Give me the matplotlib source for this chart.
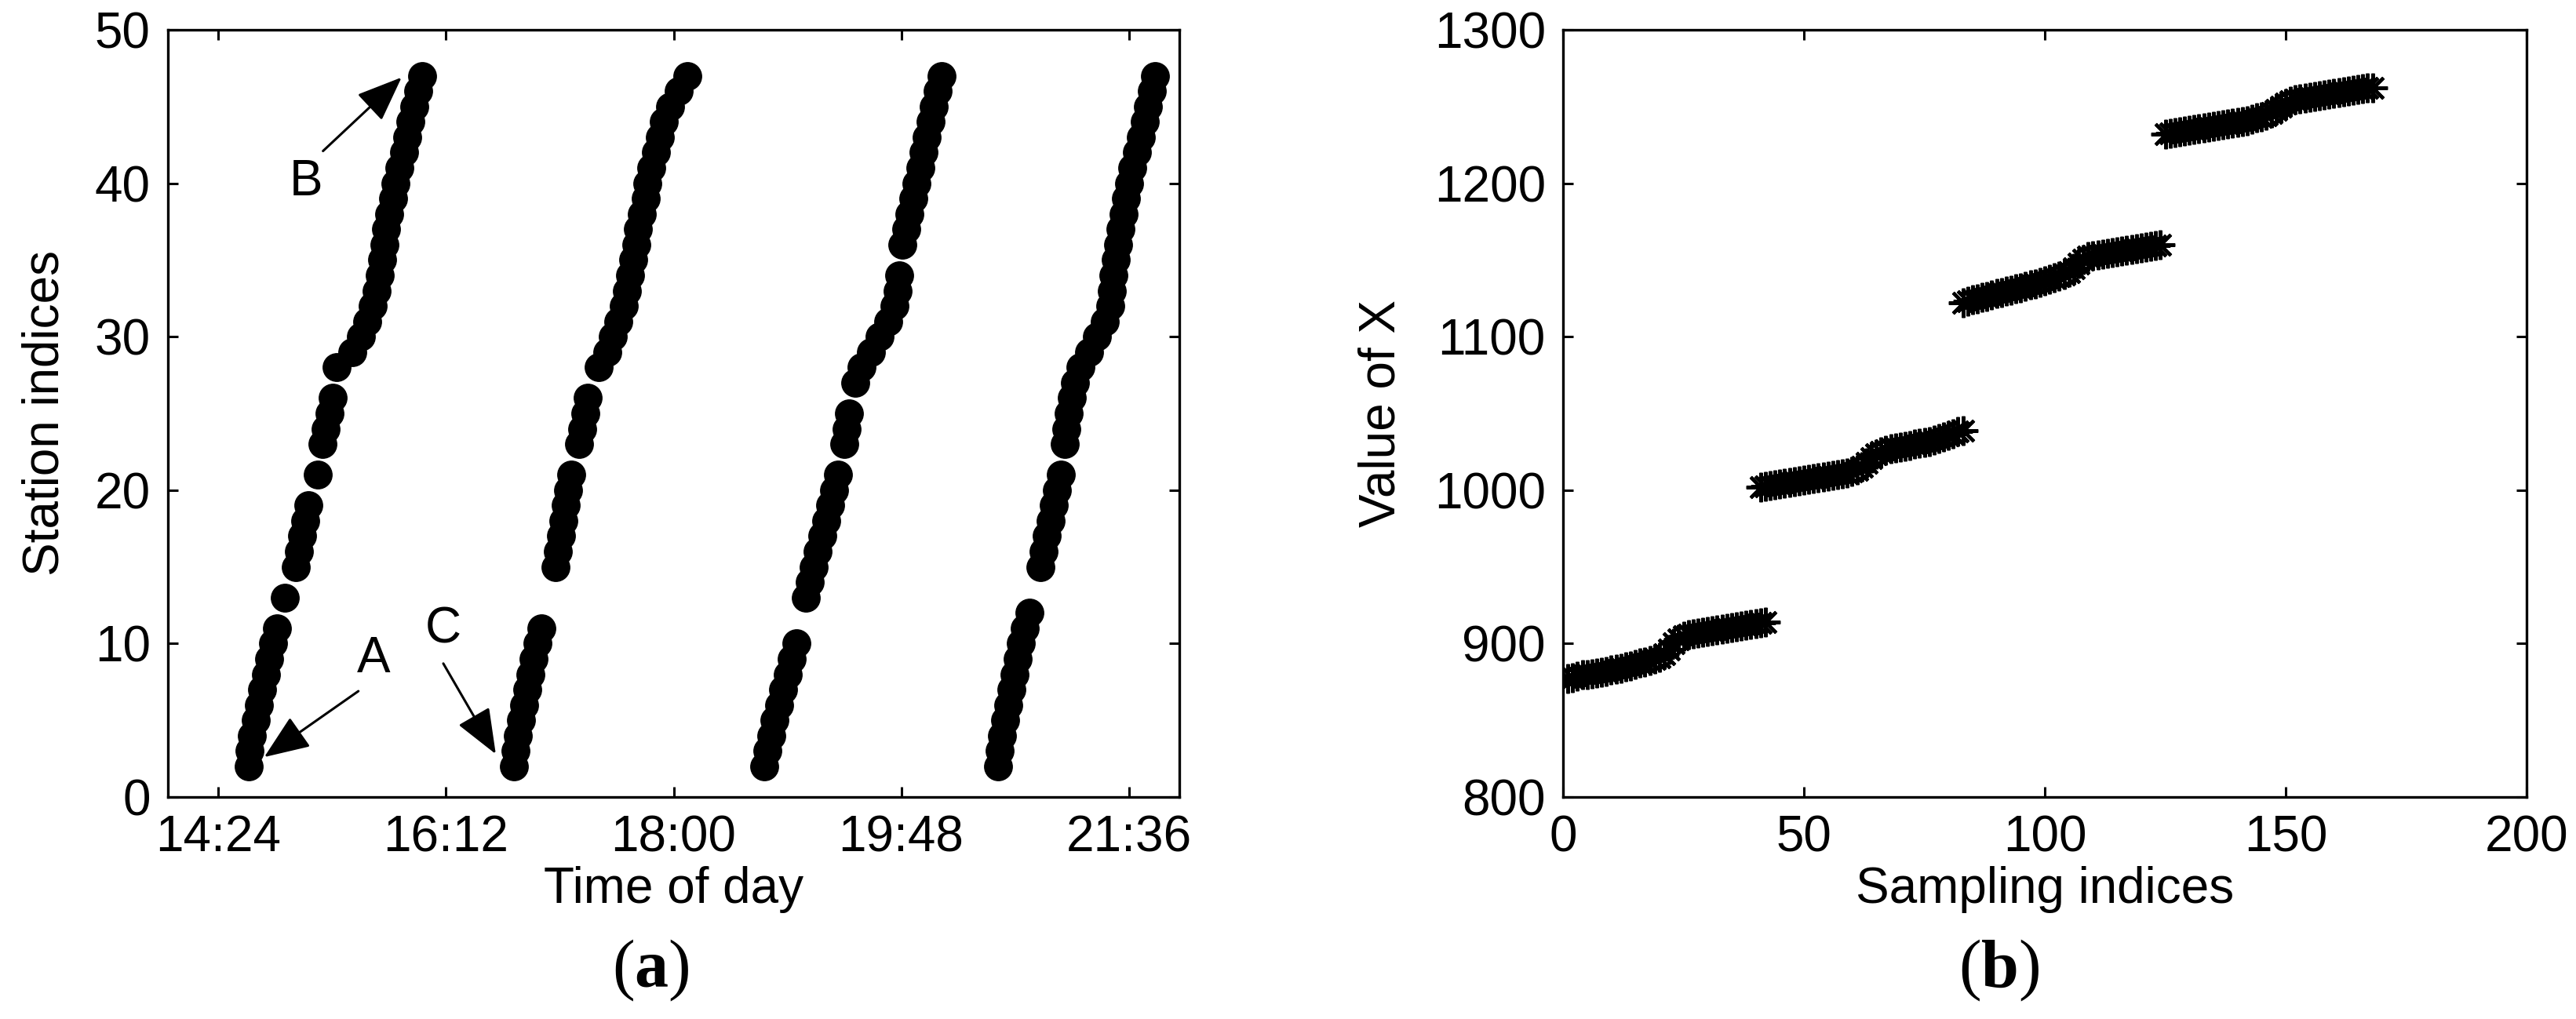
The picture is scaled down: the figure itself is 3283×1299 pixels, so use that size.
import matplotlib
matplotlib.use("Agg")
import matplotlib.pyplot as plt

plt.rcParams['font.family'] = ['Liberation Sans', 'DejaVu Sans']
plt.rcParams['mathtext.fontset'] = 'custom'
plt.rcParams['mathtext.bf'] = 'Liberation Serif:bold'
plt.rcParams['mathtext.rm'] = 'Liberation Serif'

# ---------------- Panel (a) data: station index vs time (minutes since midnight)
trip1_stations = [2, 3, 4, 5, 6, 7, 8, 9, 10, 11, 13, 15, 16, 17, 18, 19, 21, 23, 24, 25, 26,
                  28, 29, 30, 31, 32, 33, 34, 35, 36, 37, 38, 39, 40, 41, 42, 43, 44, 45, 46, 47]
trip1_times = [878.2, 878.8, 880.0, 881.6, 883.2, 884.8, 886.4, 888.1, 889.9, 891.8, 895.4,
               900.6, 902.1, 903.5, 905.0, 906.7, 911.1, 913.4, 915.0, 916.6, 918.3,
               920.2, 927.5, 931.5, 934.5, 937.2, 939.0, 940.5, 941.6, 942.6, 943.4, 945.0,
               946.9, 948.0, 950.0, 952.2, 953.4, 955.0, 956.9, 958.8, 960.8]

trip2_stations = [2, 3, 4, 5, 6, 7, 8, 9, 10, 11, 15, 16, 17, 18, 19, 20, 21, 23, 24, 25, 26,
                  28, 29, 30, 31, 32, 33, 34, 35, 36, 37, 38, 39, 40, 41, 42, 43, 44, 45, 46, 47]
trip2_times = [1004.2, 1005.0, 1006.2, 1007.6, 1009.0, 1010.5, 1012.0, 1013.5, 1015.3, 1017.3,
               1023.9, 1025.2, 1026.4, 1027.6, 1028.8, 1030.0, 1031.5, 1035.3, 1036.6, 1038.0, 1039.3,
               1044.3, 1048.5, 1051.2, 1053.7, 1056.2, 1058.0, 1059.2, 1060.8, 1062.3, 1063.2, 1065.0,
               1066.6, 1067.4, 1069.5, 1071.6, 1073.6, 1075.5, 1078.4, 1082.5, 1086.6]

trip3_stations = [2, 3, 4, 5, 6, 7, 8, 9, 10, 13, 14, 15, 16, 17, 18, 19, 20, 21, 23, 24, 25,
                  27, 28, 29, 30, 31, 32, 33, 34, 36, 37, 38, 39, 40, 41, 42, 43, 44, 45, 46, 47]
trip3_times = [1123.1, 1124.4, 1126.2, 1128.0, 1130.0, 1132.0, 1134.0, 1136.2, 1138.3,
               1142.7, 1144.5, 1146.4, 1148.4, 1150.4, 1152.4, 1154.4, 1156.3, 1158.2,
               1160.9, 1162.0, 1163.1, 1166.3, 1169.3, 1173.5, 1177.8, 1181.8, 1184.9, 1186.2, 1186.9,
               1188.6, 1190.3, 1192.0, 1193.7, 1195.4, 1197.0, 1198.6, 1200.2, 1201.9, 1203.6,
               1205.4, 1207.2]

trip4_stations = [2, 3, 4, 5, 6, 7, 8, 9, 10, 11, 12, 15, 16, 17, 18, 19, 20, 21, 23, 24, 25,
                  26, 27, 28, 29, 30, 31, 32, 33, 34, 35, 36, 37, 38, 39, 40, 41, 42, 43, 44, 45, 46, 47]
trip4_times = [1233.9, 1234.6, 1235.8, 1237.3, 1238.8, 1240.3, 1241.8, 1243.3, 1244.8, 1246.6, 1248.8,
               1254.0, 1255.6, 1257.2, 1258.8, 1260.4, 1262.0, 1263.7, 1265.5, 1266.5, 1267.6,
               1268.9, 1270.4, 1273.2, 1277.0, 1281.0, 1284.8, 1287.3, 1288.0, 1288.7, 1289.8,
               1291.0, 1292.2, 1293.4, 1294.7, 1296.0, 1297.8, 1299.8, 1301.7, 1303.5, 1305.2,
               1306.9, 1308.4]

time_ticks = [864, 972, 1080, 1188, 1296]
time_tick_labels = ['14:24', '16:12', '18:00', '19:48', '21:36']

# annotation anchors (time in minutes, station index)
label_A = (937.6, 9.0)
arrow_A = ((930.4, 6.9), (885.7, 2.6))
label_B = (905.5, 40.1)
arrow_B = ((913.6, 42.1), (950.9, 46.9))
label_C = (970.5, 10.9)
arrow_C = ((970.7, 8.7), (995.6, 2.8))

# ---------------- Panel (b) data: value of X vs sampling index
g1_idx = list(range(1, 43))
g1_val = [877, 877.5, 878.5, 879.5, 880, 880.5, 881, 881.5, 882, 883, 883.5, 884, 885, 885.5,
          886.5, 887.5, 888, 889, 890, 891, 893, 896, 900, 903, 905, 906, 906.5, 907, 907.5,
          908, 908.5, 909, 909.5, 910, 910.5, 911, 911.5, 912, 912.5, 913, 913.5, 914]
g2_idx = list(range(41, 84))
g2_val = [1002, 1002.5, 1003, 1003.5, 1004, 1004.5, 1005, 1005.5, 1006, 1006.5, 1007, 1007.5,
          1008, 1008.5, 1009, 1009.5, 1010, 1010.5, 1011, 1012, 1013, 1015, 1018, 1021, 1023.5,
          1025, 1026, 1027, 1027.5, 1028, 1028.5, 1029, 1030, 1030.5, 1031, 1031.5, 1032.5,
          1033.5, 1034.5, 1035.5, 1036.5, 1038, 1039]
g3_idx = list(range(83, 125))
g3_val = [1122, 1123, 1124, 1124.5, 1125.5, 1126, 1127, 1128, 1128.5, 1129.5, 1130.5, 1131.5,
          1132, 1133, 1134, 1134.5, 1135.5, 1136.5, 1137.5, 1138.5, 1139.5, 1140.5, 1142, 1144.5,
          1147.5, 1150, 1152, 1153, 1153.5, 1154, 1154.5, 1155, 1155.5, 1156, 1156.5, 1157,
          1157.5, 1158, 1158.5, 1159, 1159.5, 1160]
g4_idx = list(range(125, 169))
g4_val = [1232, 1232.5, 1233, 1233.5, 1234, 1234.5, 1235, 1235.5, 1236, 1236.5, 1237, 1237.5,
          1238, 1238.5, 1239, 1239.5, 1240, 1240.5, 1241.5, 1242.5, 1243.5, 1244.5, 1246, 1248,
          1250, 1252, 1253.5, 1254.5, 1255, 1255.5, 1256, 1256.5, 1257, 1257.5, 1258, 1258.5,
          1259, 1259.5, 1260, 1260.5, 1261, 1261.5, 1262, 1262]

W, H = 3283, 1299
fig = plt.figure(figsize=(W / 100, H / 100), dpi=100)
axA = fig.add_axes([214 / W, 1 - 1016 / H, 1289 / W, 978 / H])
axB = fig.add_axes([1992 / W, 1 - 1016 / H, 1228 / W, 978 / H])

FS = 46
for ax in (axA, axB):
    for sp in ax.spines.values():
        sp.set_linewidth(2.4)
    ax.tick_params(direction='in', length=9.5, width=2.2, top=True, right=True,
                   labelsize=FS, pad=16)

# Panel (a)
for st, tm in ((trip1_stations, trip1_times), (trip2_stations, trip2_times),
               (trip3_stations, trip3_times), (trip4_stations, trip4_times)):
    axA.plot(tm, st, 'o', color='k', markerfacecolor='k', markersize=25.5, markeredgewidth=1,
             linestyle='none')
axA.set_xlim(840, 1320)
axA.set_ylim(0, 50)
axA.set_xticks(time_ticks)
axA.set_xticklabels(time_tick_labels)
axA.set_yticks([0, 10, 20, 30, 40, 50])
axA.set_xlabel('Time of day', fontsize=FS, labelpad=4)
axA.set_ylabel('Station indices', fontsize=FS, labelpad=24)

arrow_style = dict(arrowstyle='-|>,head_length=0.5,head_width=0.2', color='k', lw=2.2,
                   mutation_scale=72, shrinkA=0, shrinkB=0)
for lab, pos, (tail, tip) in (('A', label_A, arrow_A), ('B', label_B, arrow_B),
                              ('C', label_C, arrow_C)):
    axA.text(pos[0], pos[1], lab, fontsize=FS, ha='center', va='center')
    axA.annotate('', xy=tip, xytext=tail, arrowprops=arrow_style)

# Panel (b)
for idx, val in ((g1_idx, g1_val), (g2_idx, g2_val), (g3_idx, g3_val), (g4_idx, g4_val)):
    axB.plot(idx, val, marker=(8, 2, 0), color='k', markersize=27, markeredgewidth=3.0,
             linestyle='none')
axB.set_xlim(0, 200)
axB.set_ylim(800, 1300)
axB.set_xticks([0, 50, 100, 150, 200])
axB.set_yticks([800, 900, 1000, 1100, 1200, 1300])
axB.set_xlabel('Sampling indices', fontsize=FS, labelpad=4)
axB.set_ylabel('Value of X', fontsize=FS, labelpad=27)

# sub-figure captions
fig.text(829 / W, 1 - 1237 / H, r'($\mathbf{a}$)', fontsize=62, ha='center', va='center',
         family='Liberation Serif')
fig.text(2548 / W, 1 - 1237 / H, r'($\mathbf{b}$)', fontsize=62, ha='center', va='center',
         family='Liberation Serif')

fig.savefig('out.png', dpi=100, facecolor='white')
